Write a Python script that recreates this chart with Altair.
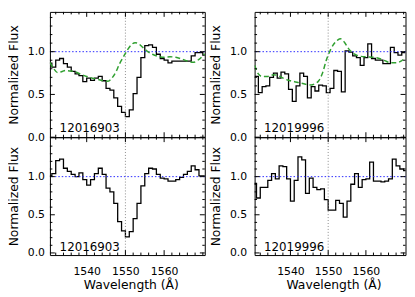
import altair as alt
import pandas as pd

FONT = "DejaVu Sans"

ids = ["12016903", "12019996"]
x_domain = [1530.5, 1570.5]

# observed spectra, 1 A bins (value per bin, bins start at *_edge0)
tl_edge0 = 1530.0
tl_flux = [0.865, 0.82, 0.90, 0.92, 0.86, 0.82, 0.77, 0.74, 0.72, 0.65,
           0.69, 0.665, 0.69, 0.71, 0.66, 0.57, 0.55, 0.46, 0.36, 0.29,
           0.24, 0.32, 0.51, 0.70, 0.93, 1.07, 1.08, 1.05, 0.97, 0.92,
           0.90, 0.87, 0.89, 0.89, 0.89, 0.89, 0.89, 0.95, 0.99, 0.99, 0.96]
bl_edge0 = 1530.0
bl_flux = [1.01, 1.04, 1.21, 1.23, 1.11, 1.07, 1.03, 1.00, 1.05, 0.96,
           0.89, 0.96, 1.04, 1.11, 1.03, 0.85, 0.80, 0.65, 0.41, 0.29,
           0.21, 0.28, 0.45, 0.65, 0.88, 1.04, 1.11, 1.10, 1.03, 0.98,
           0.97, 0.94, 0.94, 0.96, 0.99, 1.03, 1.07, 1.14, 1.09, 1.01, 1.01]
tr_edge0 = 1530.5
tr_flux = [0.71, 0.52, 0.59, 0.60, 0.70, 0.75, 0.69, 0.76, 0.74, 0.56,
           0.42, 0.60, 0.75, 0.71, 0.46, 0.59, 0.54, 0.61, 0.60, 0.52,
           0.57, 0.78, 0.77, 0.53, 1.01, 0.995, 0.95, 0.93, 0.84, 0.93,
           1.09, 0.92, 0.90, 0.90, 0.86, 0.86, 1.05, 0.99, 0.96, 0.99]
br_edge0 = 1530.0
br_flux = [0.91, 0.72, 0.86, 0.86, 0.95, 1.04, 0.97, 1.14, 1.13, 0.97,
           0.68, 0.95, 1.26, 1.22, 0.78, 0.98, 0.86, 0.83, 0.84, 0.70,
           0.56, 0.56, 0.69, 0.65, 0.47, 0.68, 0.90, 1.04, 0.86, 0.96,
           0.97, 1.19, 0.94, 0.94, 0.93, 0.94, 0.97, 1.23, 1.14, 1.10, 1.08]

# model (green dashed) curves, top panels
tl_model_wave = [1530.5, 1531.5, 1532.5, 1533.5, 1534.5, 1535.5, 1537, 1538.5, 1540, 1541.5,
                 1543, 1544.5, 1545.5, 1546.5, 1547.5, 1548.5, 1549.5, 1550.5, 1551.5, 1552.5,
                 1553.5, 1554.5, 1555.5, 1557, 1558.5, 1560, 1561.5, 1563, 1564.5, 1566,
                 1567.5, 1569, 1570.5]
tl_model_flux = [0.875, 0.80, 0.755, 0.765, 0.78, 0.775, 0.765, 0.735, 0.71, 0.69,
                 0.675, 0.66, 0.655, 0.69, 0.76, 0.86, 0.94, 1.02, 1.08, 1.105,
                 1.09, 1.05, 1.01, 0.97, 0.945, 0.935, 0.94, 0.935, 0.915, 0.89,
                 0.875, 0.91, 0.975]
tr_model_wave = [1530.5, 1531.5, 1532.5, 1534, 1535.5, 1537, 1538.5, 1540, 1542, 1544,
                 1545.5, 1546.5, 1547.5, 1548.5, 1549.5, 1550.5, 1551.5, 1552.5, 1553.3, 1554.3,
                 1555.5, 1557, 1558.7, 1560.4, 1562, 1563.5, 1565, 1566.5, 1568, 1569.3, 1570.5]
tr_model_flux = [0.84, 0.74, 0.71, 0.71, 0.73, 0.715, 0.68, 0.66, 0.64, 0.62,
                 0.61, 0.625, 0.66, 0.75, 0.90, 1.01, 1.09, 1.135, 1.15, 1.11,
                 1.03, 0.97, 0.945, 0.94, 0.935, 0.92, 0.895, 0.87, 0.87, 0.89, 0.935]

x_major = [1540, 1550, 1560]
x_minor = [1532, 1534, 1536, 1538, 1542, 1544, 1546, 1548, 1552, 1554, 1556, 1558,
           1562, 1564, 1566, 1568, 1570]
y_major = [0.0, 0.5, 1.0]
y_minor = [0.1, 0.2, 0.3, 0.4, 0.6, 0.7, 0.8, 0.9, 1.1, 1.2, 1.3, 1.4]
line_wave = [1550]
cont_level = [1.0]


def panel(edge0, flux, model_w, model_f, label, width, height, ydom, top,
          label_y, lab_pad):
    xs = [edge0 + i for i in range(len(flux))] + [edge0 + len(flux)]
    fs = list(flux) + [flux[-1]]
    spec = pd.DataFrame({"w": xs, "f": fs})
    xs_ = alt.Scale(domain=x_domain, nice=False, zero=False)
    ys_ = alt.Scale(domain=ydom, nice=False, zero=False)
    if top:
        xaxis = None
    else:
        xaxis = alt.Axis(values=x_major, format="d", ticks=False, domain=False, grid=False,
                         labelFontSize=11, labelFont=FONT, labelColor="black",
                         labelPadding=10.5, title="Wavelength (Å)", titleFontSize=12.5,
                         titleFont=FONT, titleFontWeight="normal", titleColor="black",
                         titlePadding=2, titleX=width / 2 + 3.5)
    yaxis = alt.Axis(values=y_major, format=".1f", ticks=False, domain=False, grid=False,
                     labelFontSize=11, labelFont=FONT, labelColor="black",
                     labelPadding=lab_pad, title="Normalized Flux", titleFontSize=12.5,
                     titleFont=FONT, titleFontWeight="normal", titleColor="black",
                     titlePadding=7)

    def X(field):
        return alt.X(field, scale=xs_, axis=xaxis, title="Wavelength (Å)")

    def Y(field):
        return alt.Y(field, scale=ys_, axis=yaxis, title="Normalized Flux")

    layers = []
    layers.append(alt.Chart(spec).mark_line(interpolate="step-after", color="black",
                                            strokeWidth=1.3, clip=True).encode(
        x=X("w:Q"), y=Y("f:Q")))
    layers.append(alt.Chart(pd.DataFrame({"w": line_wave})).mark_rule(
        color="#8a8a8a", strokeDash=[1, 2], strokeWidth=1).encode(x=X("w:Q")))
    layers.append(alt.Chart(pd.DataFrame({"f": cont_level})).mark_rule(
        color="#2a2aff", strokeDash=[1.5, 2], strokeWidth=1).encode(y=Y("f:Q")))
    if model_w is not None:
        layers.append(alt.Chart(pd.DataFrame({"w": model_w, "f": model_f})).mark_line(
            color="#30a030", strokeDash=[5, 3], strokeWidth=1.5, interpolate="monotone",
            clip=True).encode(x=X("w:Q"), y=Y("f:Q")))
    # box ticks
    for vals, ln in ((x_major, 5), (x_minor, 2.5)):
        d = pd.DataFrame({"w": vals})
        layers.append(alt.Chart(d).mark_rule(color="black", strokeWidth=1).encode(
            x=X("w:Q"), y=alt.value(height), y2=alt.value(height - ln)))
        layers.append(alt.Chart(d).mark_rule(color="black", strokeWidth=1).encode(
            x=X("w:Q"), y=alt.value(0), y2=alt.value(ln)))
    for vals, ln in ((y_major, 5), (y_minor, 2.5)):
        d = pd.DataFrame({"f": vals})
        layers.append(alt.Chart(d).mark_rule(color="black", strokeWidth=1).encode(
            y=Y("f:Q"), x=alt.value(0), x2=alt.value(ln)))
        layers.append(alt.Chart(d).mark_rule(color="black", strokeWidth=1).encode(
            y=Y("f:Q"), x=alt.value(width), x2=alt.value(width - ln)))
    layers.append(alt.Chart(pd.DataFrame({"w": [1533.0], "f": [label_y], "t": [label]})).mark_text(
        align="left", baseline="alphabetic", fontSize=12, font=FONT, color="black").encode(
        x=X("w:Q"), y=Y("f:Q"), text="t:N"))
    return alt.layer(*layers).properties(width=width, height=height)


top_dom = [0.0, 1.465]
bot_dom = [-0.028, 1.517]
tl = panel(tl_edge0, tl_flux, tl_model_wave, tl_model_flux, ids[0], 157, 127, top_dom, True, 0.06, 5.5)
tr = panel(tr_edge0, tr_flux, tr_model_wave, tr_model_flux, ids[1], 153, 127, top_dom, True, 0.06, 8)
bl = panel(bl_edge0, bl_flux, None, None, ids[0], 157, 119.5, bot_dom, False, 0.02, 5.5)
br = panel(br_edge0, br_flux, None, None, ids[1], 153, 119.5, bot_dom, False, 0.03, 8)

chart = alt.concat(tl, tr, bl, br, columns=2, spacing={"row": 0, "column": 50.5},
                   bounds="flush").properties(
    padding={"left": -1.5, "top": 1, "right": 0, "bottom": 0},
    background="white"
).configure_view(stroke="black", strokeWidth=1)

chart.save("out.html", embed_options={"renderer": "svg", "actions": False})
